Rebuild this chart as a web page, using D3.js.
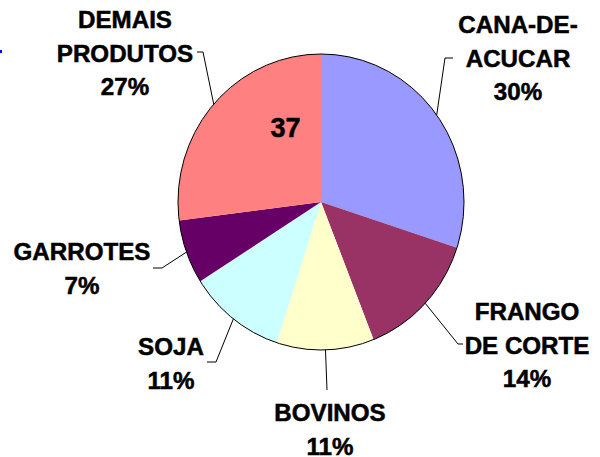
<!DOCTYPE html>
<html>
<head>
<meta charset="utf-8">
<script src="https://cdn.jsdelivr.net/npm/d3@7"></script>
<style>
  html, body { margin: 0; padding: 0; background: #fff; }
  svg { display: block; font-family: "Liberation Sans", Arial, sans-serif; }
</style>
</head>
<body>
<svg id="chart"></svg>
<script>
// slices, clockwise from 12 o'clock
const categories = ['CANA-DE-ACUCAR', 'FRANGO DE CORTE', 'BOVINOS', 'SOJA', 'GARROTES', 'DEMAIS PRODUTOS'];
const values = [30, 14, 11, 11, 7, 27];
const labelLines = [['CANA-DE-', 'ACUCAR'], ['FRANGO', 'DE CORTE'], ['BOVINOS'], ['SOJA'], ['GARROTES'], ['DEMAIS', 'PRODUTOS']];
const colors = ['#9999FF', '#993366', '#FFFFCC', '#CCFFFF', '#660066', '#FF8080'];
const innerNote = '37';

const width = 600, height = 457;
const cx = 321, cy = 202, rx = 143, ry = 148;

// where each label sits (first baseline) and the elbow of its leader line
const labelPos = [
  { x: 518, y: 33, elbow: [445, 58], end: [453, 58] },
  { x: 527, y: 320, elbow: [458, 344], end: [463, 344] },
  { x: 330, y: 421, elbow: [327, 390], end: null },
  { x: 171, y: 355, elbow: [216, 362], end: [207, 362] },
  { x: 82, y: 260, elbow: [162, 268], end: [153, 268] },
  { x: 125, y: 28, elbow: [203, 52], end: [197, 52] }
];

const svg = d3.select('#chart')
  .attr('width', width)
  .attr('height', height);

const pie = d3.pie().sort(null).value(d => d)(values);
const arc = d3.arc().innerRadius(0).outerRadius(1);

const pieG = svg.append('g')
  .attr('transform', `translate(${cx},${cy}) scale(${rx},${ry})`);

pieG.selectAll('path.slice')
  .data(pie)
  .enter()
  .append('path')
  .attr('class', 'slice')
  .attr('d', arc)
  .attr('fill', (d, i) => colors[i]);

pieG.append('ellipse')
  .attr('rx', 1)
  .attr('ry', 1)
  .attr('fill', 'none')
  .attr('stroke', '#000')
  .attr('stroke-width', 1)
  .attr('vector-effect', 'non-scaling-stroke');

// leader lines from the middle of each slice's rim
pie.forEach((d, i) => {
  const a = (d.startAngle + d.endAngle) / 2;
  const sx = cx + Math.sin(a) * rx;
  const sy = cy - Math.cos(a) * ry;
  const p = labelPos[i];
  const pts = [[sx, sy], p.elbow];
  if (p.end) pts.push(p.end);
  svg.append('path')
    .attr('d', d3.line()(pts))
    .attr('fill', 'none')
    .attr('stroke', '#000')
    .attr('stroke-width', 1);
});

// labels
const lineH = 33.5;
labelLines.forEach((lines, i) => {
  const p = labelPos[i];
  const txt = lines.concat([values[i] + '%']);
  txt.forEach((t, j) => {
    svg.append('text')
      .attr('transform', `translate(${p.x},${p.y + j * lineH}) scale(1.05,1)`)
      .attr('text-anchor', 'middle')
      .attr('font-size', 23)
      .attr('font-weight', 'bold')
      .attr('fill', '#000')
      .attr('stroke', '#000')
      .attr('stroke-width', 0.5)
      .text(t);
  });
});

// number written inside the last slice
svg.append('text')
  .attr('x', 285.5)
  .attr('y', 137)
  .attr('text-anchor', 'middle')
  .attr('font-size', 27)
  .attr('font-weight', 'bold')
  .attr('fill', '#000')
  .attr('stroke', '#000')
  .attr('stroke-width', 0.5)
  .text(innerNote);

// small blue mark at the left edge
svg.append('rect')
  .attr('x', 0)
  .attr('y', 50)
  .attr('width', 2)
  .attr('height', 3)
  .attr('fill', '#0000FF');
</script>
</body>
</html>
